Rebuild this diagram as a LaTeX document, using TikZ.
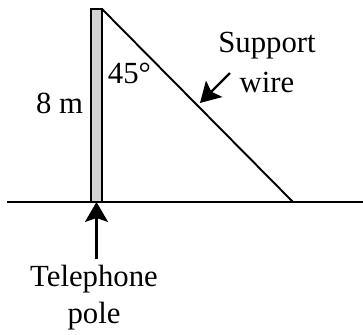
\documentclass[tikz,border=0pt]{standalone}
\usepackage{fontspec}
\setmainfont{Liberation Serif}
\usetikzlibrary{positioning, arrows.meta, calc}

\begin{document}
\begin{tikzpicture}[
    x=0.02cm, y=-0.02cm,
    % Node styles
    label/.style={font=\fontsize{17.5}{20.5}\selectfont, inner sep=0pt},
    polebox/.style={draw, fill=gray!35, line width=1.1pt, outer sep=0pt,
        minimum width=0.22cm, minimum height=3.86cm, inner sep=0pt},
    % Line styles
    ground/.style={line width=1.1pt},
    wire/.style={line width=1.1pt},
    pointer/.style={-{Stealth[length=0.4cm, width=0.46cm, inset=0.08cm]}, line width=1.4pt},
]
\useasboundingbox (0,0) rectangle (363,335);

% --- Pole and ground ---
\draw[ground] (7,202) coordinate (gleft) -- (363,202) coordinate (gright);
\node[polebox] (pole) at (96.5,105.5) {};
\coordinate (foot) at (293,202);

% --- Support wire ---
\draw[wire] (pole.north east) -- (foot);

% --- Labels ---
\node[label, anchor=base] (height) at (59.5,113) {8 m};
\node[label, anchor=base] (angle) at (129.5,83) {45°};
\node[label, align=center, anchor=base] (wirelbl) at (267,92) {Support\\[2pt]wire};
\node[label, align=center, anchor=base] (polelbl) at (94,323) {Telephone\\pole};

% --- Pointer arrows ---
\coordinate (wiretail) at (230,73);
\coordinate (wiretip) at (200,103);
\draw[pointer] (wiretail) -- (wiretip);
\draw[pointer] ([yshift=0.12cm]polelbl.north -| pole.south) -- (pole.south);

\end{tikzpicture}
\end{document}
